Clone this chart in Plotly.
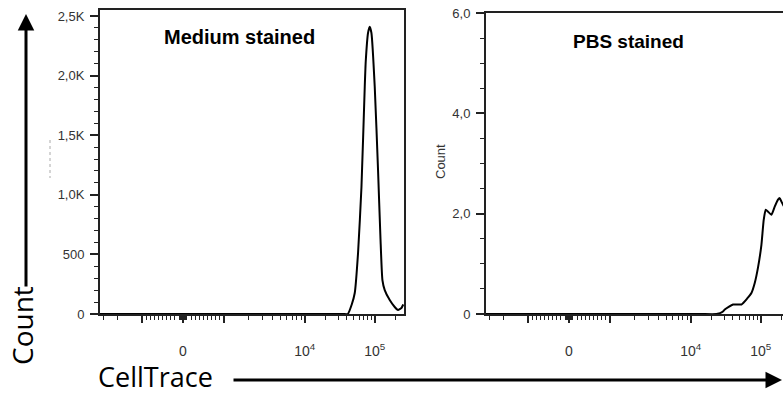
import math
import plotly.graph_objects as go

# ---------------- data ----------------
# Medium stained histogram: CellTrace fluorescence (a.u.) vs count
medium_x = [-3300, 20000, 35000, 41200, 46900, 51800, 57700, 64600, 72000, 74400,
            80200, 84800, 89700, 100000, 111500, 120600, 128800, 139000, 163800,
            193100, 215200, 240600, 255300]
medium_y = [0, 0, 0, 0, 80, 176, 510, 1065, 1907, 2120,
            2357, 2410, 2357, 1907, 1208, 646, 285, 201, 117,
            59, 34, 50, 80]

# PBS stained histogram (count, thousands)
pbs_x = [-3300, 13450, 23300, 28900, 30600, 40200, 53000, 64100, 73600, 82100,
         91500, 102300, 110400, 117900, 127200, 142200, 158500, 176600, 186800,
         197600, 213100]
pbs_y = [0, 0, 0, 0.05, 0.09, 0.19, 0.19, 0.31, 0.42, 0.62,
         0.93, 1.38, 1.88, 2.08, 2.04, 1.98, 2.14, 2.28, 2.31,
         2.24, 2.15]

# tick definitions
x_major_vals = [-1000, 0, 1000, 10000, 100000]
x_major_text = ["", "0", "", "10<sup>4</sup>", "10<sup>5</sup>"]
x_minor_vals = ([-3000, -2000] + [-m * 100 for m in range(2, 10)] + [-m * 10 for m in range(1, 10)]
                + [m * 10 for m in range(1, 10)] + [m * 100 for m in range(2, 10)]
                + [m * 1000 for m in range(2, 10)] + [m * 10000 for m in range(2, 10)] + [200000])

y1_major_vals = [0, 500, 1000, 1500, 2000, 2500]
y1_major_text = ["0", "500", "1,0K", "1,5K", "2,0K", "2,5K"]
y1_minor_vals = list(range(0, 2600, 100))

y2_major_vals = [0, 2, 4, 6]
y2_major_text = ["0", "2,0", "4,0", "6,0"]
y2_minor_vals = [v * 0.5 for v in range(0, 13)]

X_MIN, X_MAX = -3300, 262144
Y1_MAX, Y2_MAX = 2550, 6.0


# biexponential-like display scale (linear around zero, log above)
def g(v):
    a = abs(v)
    if a <= 1000:
        r = 41 * a / 1000
    elif a <= 1e4:
        r = 41 + 81 * math.log10(a / 1000)
    else:
        r = 122 + 70 * math.log10(a / 1e4)
    return r if v >= 0 else -r


W, H = 783, 394


def px(x):
    return x / W


def py(y):
    return 1 - y / H


# panel geometry (pixels)
L1, R1 = 100, 404
L2, R2 = 486, 783
TOP1, TOP2, BOT = 10, 13, 314

xr0, xr1 = g(X_MIN), g(X_MAX)
x2_end = xr0 + (R2 - L2) / (R1 - L1) * (xr1 - xr0)

fig = go.Figure()
line_style = dict(color="black", width=2, shape="spline", smoothing=0.5)
fig.add_trace(go.Scatter(x=[g(v) for v in medium_x], y=medium_y, mode="lines",
                         line=line_style, xaxis="x", yaxis="y", showlegend=False,
                         hoverinfo="skip"))
fig.add_trace(go.Scatter(x=[g(v) for v in pbs_x], y=pbs_y, mode="lines",
                         line=line_style, xaxis="x2", yaxis="y2", showlegend=False,
                         hoverinfo="skip"))

tickfont = dict(family="Liberation Sans, Arial", size=13, color="#333")
xtickfont = dict(family="Liberation Sans, Arial", size=14, color="#333")
axcol = "#222"


def xaxis_cfg(domain, rng):
    return dict(domain=domain, range=rng, showline=True, linecolor=axcol, linewidth=1.5,
                mirror=True, ticks="outside", ticklen=7, tickwidth=1.5, tickcolor=axcol,
                tickmode="array", tickvals=[g(v) for v in x_major_vals], ticktext=x_major_text,
                minor=dict(tickmode="array", tickvals=[g(v) for v in x_minor_vals],
                           ticks="outside", ticklen=4, tickwidth=1, tickcolor=axcol),
                showgrid=False, zeroline=False, tickfont=xtickfont, ticklabelstandoff=16,
                automargin=False, fixedrange=True)


def yaxis_cfg(domain, rng, vals, text, minor_vals, mirror):
    return dict(domain=domain, range=rng, showline=True, linecolor=axcol, linewidth=2,
                mirror=mirror, ticks="outside", ticklen=8, tickwidth=2, tickcolor=axcol,
                tickmode="array", tickvals=vals, ticktext=text,
                minor=dict(tickmode="array", tickvals=minor_vals, ticks="outside",
                           ticklen=4, tickwidth=1, tickcolor=axcol),
                showgrid=False, zeroline=False, tickfont=tickfont, ticklabelstandoff=3,
                automargin=False, fixedrange=True)


fig.update_layout(
    width=W, height=H, margin=dict(l=0, r=0, t=0, b=0),
    paper_bgcolor="white", plot_bgcolor="white", template="none",
    xaxis=dict(anchor="y", **xaxis_cfg([px(L1), px(R1)], [xr0, xr1])),
    yaxis=dict(anchor="x", **yaxis_cfg([py(BOT), py(TOP1)], [0, Y1_MAX], y1_major_vals,
                                       y1_major_text, y1_minor_vals, True)),
    xaxis2=dict(anchor="y2", **xaxis_cfg([px(L2), 1.0], [xr0, x2_end])),
    yaxis2=dict(anchor="x2", **yaxis_cfg([py(BOT), py(TOP2)], [0, Y2_MAX], y2_major_vals,
                                         y2_major_text, y2_minor_vals, False)),
)

C = dict(xref="paper", yref="paper", xanchor="center", yanchor="middle")
ann = []
ann.append(dict(text="<b>Medium stained</b>", x=px(239), y=py(37), showarrow=False,
                font=dict(family="Liberation Sans, Arial", size=20, color="black"), **C))
ann.append(dict(text="<b>PBS stained</b>", x=px(628), y=py(41), showarrow=False,
                font=dict(family="Liberation Sans, Arial", size=19, color="black"), **C))
ann.append(dict(text="Count", x=px(440), y=py(162), textangle=-90, showarrow=False,
                font=dict(family="Liberation Sans, Arial", size=13, color="#333"), **C))
ann.append(dict(text="Count", x=px(22), y=py(326), textangle=-90, showarrow=False,
                font=dict(family="Open Sans", size=28, color="black"), **C))
ann.append(dict(text="CellTrace", x=px(155), y=py(376), showarrow=False,
                font=dict(family="Open Sans", size=27, color="black"), **C))
# vertical arrow (Count)
ann.append(dict(text="", x=px(26), y=py(14), showarrow=True,
                ax=0, ay=288 - 14, axref="pixel", ayref="pixel", arrowhead=2, arrowsize=1.1,
                arrowwidth=3, arrowcolor="black", **C))
# horizontal arrow (CellTrace)
ann.append(dict(text="", x=px(789), y=py(380), showarrow=True,
                ax=-(789 - 232), ay=0, axref="pixel", ayref="pixel", arrowhead=2, arrowsize=1.1,
                arrowwidth=3, arrowcolor="black", **C))
fig.update_layout(annotations=ann)

# faint remnant mark
fig.add_shape(type="line", xref="paper", yref="paper", x0=px(50), x1=px(50), y0=py(140), y1=py(178),
              line=dict(color="#aaa", width=1, dash="dot"))

fig.write_html("out.html", config={"displayModeBar": False},
               post_script="document.body.style.margin='0';")
